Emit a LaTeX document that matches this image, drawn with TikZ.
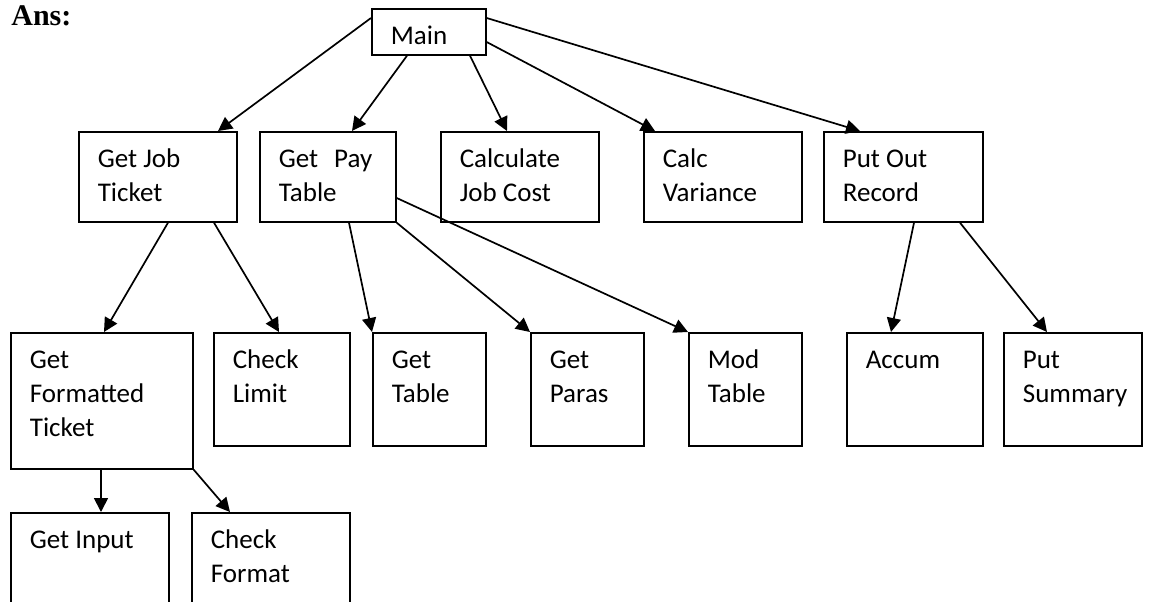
\documentclass[tikz,border=0pt]{standalone}
\usepackage{fontspec}
\setmainfont{Carlito}
\newfontfamily\ansfont{Liberation Serif}
\usetikzlibrary{calc,arrows.meta}
\newdimen\unitpx \unitpx=0.5pt
\def\boxtext#1#2#3{\parbox[c][#2\unitpx][t]{#1\unitpx}{\raggedright\leftskip=9.5pt\rule{0pt}{18pt}#3}}
\tikzset{
	modbox/.style={draw, line width=0.85pt, anchor=north west, inner sep=0pt, font=\fontsize{13.5}{17}\selectfont},
	call/.style={-{Triangle[length=7pt,width=7pt]}, line width=0.85pt}
}

\begin{document}
\begin{tikzpicture}[x=0.5pt, y=-0.5pt]
			%%%%% START %%%%%
			\useasboundingbox (0, 0) rectangle (1151, 601);
			
			\node[anchor=base west, inner sep=0pt, font=\ansfont\bfseries\fontsize{15}{17}\selectfont] (ans) at (11, 25) {Ans:};
			
			\node[modbox] (main) at (371, 8) {\boxtext{114}{46}{Main}};
			
			\node[modbox] (jobticket) at (78, 131) {\boxtext{158}{90}{Get Job\\Ticket}};
			\node[modbox] (paytable) at (259, 131) {\boxtext{136}{90}{Get\hspace{8pt}Pay\\Table}};
			\node[modbox] (jobcost) at (440, 131) {\boxtext{158}{90}{Calculate\\Job Cost}};
			\node[modbox] (variance) at (643, 131) {\boxtext{158}{90}{Calc\\Variance}};
			\node[modbox] (putout) at (823, 131) {\boxtext{159}{90}{Put Out\\Record}};
			
			\node[modbox] (formatted) at (10, 332) {\boxtext{182}{136}{Get\\Formatted\\Ticket}};
			\node[modbox] (checklimit) at (213, 332) {\boxtext{136}{113}{Check\\Limit}};
			\node[modbox] (gettable) at (372, 332) {\boxtext{113}{113}{Get\\Table}};
			\node[modbox] (getparas) at (530, 332) {\boxtext{113}{113}{Get\\Paras}};
			\node[modbox] (modtable) at (688, 332) {\boxtext{113}{113}{Mod\\Table}};
			\node[modbox] (accum) at (846, 332) {\boxtext{136}{113}{Accum}};
			\node[modbox] (summary) at (1003, 332) {\boxtext{138}{113}{Put\\Summary}};
			
			% bottom row runs off the page
			\node[modbox] (getinput) at (10, 512) {\boxtext{158}{120}{Get Input}};
			\node[modbox] (checkformat) at (191, 512) {\boxtext{158}{120}{Check\\Format}};
			
			\draw[call] ($(main.north west)+(0,10)$) -- ($(jobticket.north west)+(140,0)$);
			\draw[call] ($(main.south west)+(36,0)$) -- ($(paytable.north west)+(93,0)$);
			\draw[call] ($(main.south west)+(99,0)$) -- ($(jobcost.north west)+(67,0)$);
			\draw[call] ($(main.north east)+(0,34)$) -- ($(variance.north west)+(12,0)$);
			\draw[call] ($(main.north east)+(0,10)$) -- ($(putout.north west)+(37,0)$);
			
			\draw[call] ($(jobticket.south west)+(90,0)$) -- ($(formatted.north west)+(94,0)$);
			\draw[call] ($(jobticket.south west)+(136,0)$) -- ($(checklimit.north west)+(66,0)$);
			\draw[call] ($(paytable.south west)+(90,0)$) -- (gettable.north west);
			\draw[call] (paytable.south east) -- (getparas.north west);
			\draw[call] ($(paytable.north east)+(0,67)$) -- (modtable.north west);
			\draw[call] ($(putout.south west)+(91,0)$) -- ($(accum.north west)+(45,0)$);
			\draw[call] ($(putout.south west)+(137,0)$) -- ($(summary.north west)+(44,0)$);
			
			\draw[call] ($(formatted.south west)+(91,0)$) -- ($(getinput.north west)+(91,0)$);
			\draw[call] (formatted.south east) -- ($(checkformat.north west)+(39,0)$);
			
			%%%%% END %%%%%
\end{tikzpicture}
\end{document}
